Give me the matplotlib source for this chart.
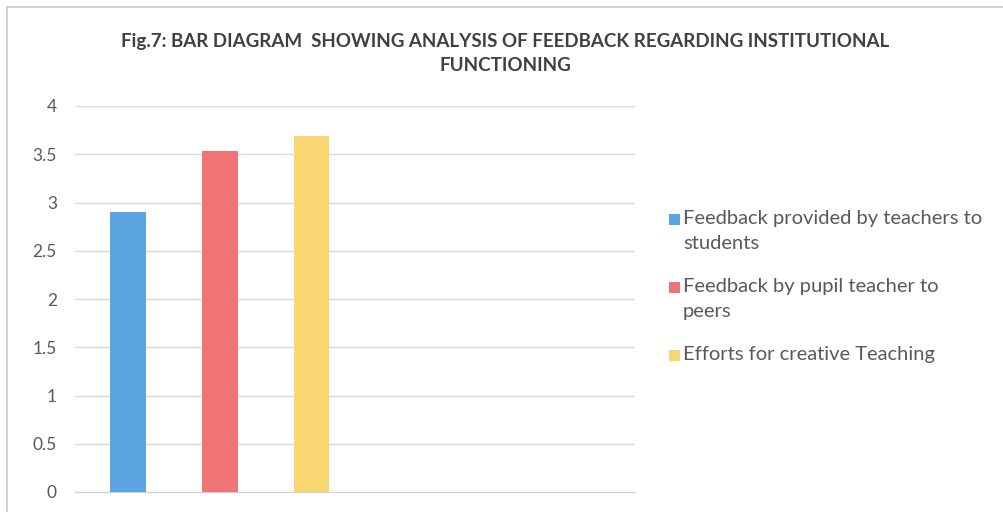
import matplotlib
matplotlib.use("Agg")
import matplotlib.pyplot as plt
from matplotlib.patches import Rectangle

# ------------------ дані з діаграми ------------------
series = ["Feedback provided by teachers to\nstudents",
          "Feedback by pupil teacher to\npeers",
          "Efforts for creative Teaching"]
values = [2.90, 3.53, 3.69]
colors = ["#5ba6e2", "#f07474", "#f8d672"]
yticks = [0, 0.5, 1, 1.5, 2, 2.5, 3, 3.5, 4]
ytick_labels = ["0", "0.5", "1", "1.5", "2", "2.5", "3", "3.5", "4"]
title = "Fig.7: BAR DIAGRAM  SHOWING ANALYSIS OF FEEDBACK REGARDING INSTITUTIONAL\nFUNCTIONING"

plt.rcParams["font.family"] = ["Lato", "DejaVu Sans"]

W, H = 1004, 512
fig = plt.figure(figsize=(W / 100, H / 100), dpi=100)
fig.patch.set_facecolor("white")

# рамка діаграми
fig.patches.append(Rectangle((7 / W, -0.05), 1.1, 1 - 7 / H + 0.05,
                             transform=fig.transFigure, fill=False,
                             edgecolor="#c8c8c8", linewidth=1.2))

ax = fig.add_axes([75 / W, 20 / H, 560 / W, 386 / H])
x = list(range(len(values)))
ax.bar(x, values, width=0.39, color=colors, zorder=3)

ax.set_xlim(-0.578, 5.526)
ax.set_ylim(0, 4)
ax.set_yticks(yticks)
ax.set_yticklabels(ytick_labels, fontsize=12.5, color="#595959")
ax.set_xticks([])
ax.tick_params(axis="y", length=0, pad=13)
ax.grid(axis="y", color="#d9d9d9", linewidth=1, zorder=0)
for s in ["top", "right", "left"]:
    ax.spines[s].set_visible(False)
ax.spines["bottom"].set_color("#d0d0d0")

fig.text(0.503, 1 - 33 / H, title, ha="center", va="top", fontsize=13.5,
         fontweight="bold", color="#404040", linespacing=1.5)

# ----------- легенда: квадрат біля першого рядка підпису -----------
leg_x, leg_y, leg_step, sq = 669, 219, 68, 11
for i, (lab, c) in enumerate(zip(series, colors)):
    yc = leg_y + i * leg_step
    fig.patches.append(Rectangle((leg_x / W, 1 - (yc + sq / 2) / H), sq / W, sq / H,
                                 transform=fig.transFigure, facecolor=c,
                                 edgecolor="none"))
    fig.text((leg_x + sq + 3) / W, 1 - (yc - 9) / H, lab, ha="left", va="top",
             fontsize=14.5, color="#595959", linespacing=1.6)

fig.savefig("out.png", dpi=100)
